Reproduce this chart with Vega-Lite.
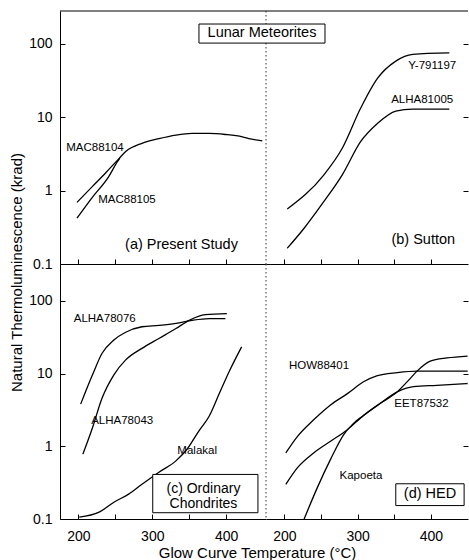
{
  "$schema": "https://vega.github.io/schema/vega-lite/v6.json",
  "padding": {"left": 9, "top": 10, "right": 0, "bottom": 0},
  "bounds": "flush",
  "spacing": 0,
  "columns": 2,
  "config": {
    "view": {"stroke": null},
    "font": "Liberation Sans",
    "axis": {
      "labelFont": "Liberation Sans", "titleFont": "Liberation Sans",
      "labelFontSize": 14, "titleFontSize": 15, "titleFontWeight": "normal",
      "labelColor": "black", "titleColor": "black",
      "domainColor": "black", "tickColor": "black", "grid": false
    },
    "text": {"font": "Liberation Sans", "color": "black"}
  },
  "datasets": {
    "curves": [
      {"p": "a", "s": "MAC88104", "T": 198, "v": 0.69},
      {"p": "a", "s": "MAC88104", "T": 219, "v": 1.14},
      {"p": "a", "s": "MAC88104", "T": 237, "v": 1.75},
      {"p": "a", "s": "MAC88104", "T": 253, "v": 2.6},
      {"p": "a", "s": "MAC88104", "T": 264, "v": 3.4},
      {"p": "a", "s": "MAC88104", "T": 286, "v": 4.4},
      {"p": "a", "s": "MAC88104", "T": 309, "v": 5.1},
      {"p": "a", "s": "MAC88104", "T": 332, "v": 5.7},
      {"p": "a", "s": "MAC88104", "T": 354, "v": 6.0},
      {"p": "a", "s": "MAC88104", "T": 377, "v": 6.0},
      {"p": "a", "s": "MAC88104", "T": 399, "v": 5.8},
      {"p": "a", "s": "MAC88104", "T": 422, "v": 5.4},
      {"p": "a", "s": "MAC88104", "T": 433, "v": 5.05},
      {"p": "a", "s": "MAC88104", "T": 449, "v": 4.75},
      {"p": "a", "s": "MAC88105", "T": 198, "v": 0.42},
      {"p": "a", "s": "MAC88105", "T": 218, "v": 0.79},
      {"p": "a", "s": "MAC88105", "T": 241, "v": 1.55},
      {"p": "a", "s": "MAC88105", "T": 253, "v": 2.5},
      {"p": "a", "s": "MAC88105", "T": 256, "v": 2.75},
      {"p": "b", "s": "Y-791197", "T": 204, "v": 0.56},
      {"p": "b", "s": "Y-791197", "T": 254, "v": 1.64},
      {"p": "b", "s": "Y-791197", "T": 279, "v": 3.77},
      {"p": "b", "s": "Y-791197", "T": 304, "v": 13.2},
      {"p": "b", "s": "Y-791197", "T": 327, "v": 33.7},
      {"p": "b", "s": "Y-791197", "T": 352, "v": 58},
      {"p": "b", "s": "Y-791197", "T": 375, "v": 71.6},
      {"p": "b", "s": "Y-791197", "T": 425, "v": 75},
      {"p": "b", "s": "ALHA81005", "T": 204, "v": 0.164},
      {"p": "b", "s": "ALHA81005", "T": 227, "v": 0.307},
      {"p": "b", "s": "ALHA81005", "T": 254, "v": 0.71},
      {"p": "b", "s": "ALHA81005", "T": 279, "v": 1.64},
      {"p": "b", "s": "ALHA81005", "T": 304, "v": 4.64},
      {"p": "b", "s": "ALHA81005", "T": 327, "v": 8.2},
      {"p": "b", "s": "ALHA81005", "T": 352, "v": 12.1},
      {"p": "b", "s": "ALHA81005", "T": 375, "v": 12.9},
      {"p": "b", "s": "ALHA81005", "T": 425, "v": 12.9},
      {"p": "c", "s": "ALHA78076", "T": 203, "v": 3.8},
      {"p": "c", "s": "ALHA78076", "T": 219, "v": 9.6},
      {"p": "c", "s": "ALHA78076", "T": 232, "v": 19},
      {"p": "c", "s": "ALHA78076", "T": 248, "v": 29},
      {"p": "c", "s": "ALHA78076", "T": 264, "v": 37},
      {"p": "c", "s": "ALHA78076", "T": 286, "v": 44},
      {"p": "c", "s": "ALHA78076", "T": 309, "v": 46},
      {"p": "c", "s": "ALHA78076", "T": 332, "v": 49},
      {"p": "c", "s": "ALHA78076", "T": 354, "v": 54},
      {"p": "c", "s": "ALHA78076", "T": 377, "v": 57},
      {"p": "c", "s": "ALHA78076", "T": 399, "v": 57},
      {"p": "c", "s": "ALHA78043", "T": 206, "v": 0.78},
      {"p": "c", "s": "ALHA78043", "T": 219, "v": 1.8},
      {"p": "c", "s": "ALHA78043", "T": 232, "v": 4.6},
      {"p": "c", "s": "ALHA78043", "T": 248, "v": 9.6},
      {"p": "c", "s": "ALHA78043", "T": 264, "v": 15.4},
      {"p": "c", "s": "ALHA78043", "T": 286, "v": 22.2},
      {"p": "c", "s": "ALHA78043", "T": 309, "v": 30.4},
      {"p": "c", "s": "ALHA78043", "T": 332, "v": 41.6},
      {"p": "c", "s": "ALHA78043", "T": 350, "v": 54},
      {"p": "c", "s": "ALHA78043", "T": 372, "v": 64.6},
      {"p": "c", "s": "ALHA78043", "T": 401, "v": 66.7},
      {"p": "c", "s": "Malakal", "T": 201, "v": 0.106},
      {"p": "c", "s": "Malakal", "T": 228, "v": 0.124},
      {"p": "c", "s": "Malakal", "T": 248, "v": 0.17},
      {"p": "c", "s": "Malakal", "T": 268, "v": 0.22},
      {"p": "c", "s": "Malakal", "T": 286, "v": 0.30},
      {"p": "c", "s": "Malakal", "T": 309, "v": 0.44},
      {"p": "c", "s": "Malakal", "T": 332, "v": 0.63},
      {"p": "c", "s": "Malakal", "T": 347, "v": 0.91},
      {"p": "c", "s": "Malakal", "T": 363, "v": 1.62},
      {"p": "c", "s": "Malakal", "T": 377, "v": 2.59},
      {"p": "c", "s": "Malakal", "T": 390, "v": 5.1},
      {"p": "c", "s": "Malakal", "T": 404, "v": 10.6},
      {"p": "c", "s": "Malakal", "T": 421, "v": 23.3},
      {"p": "d", "s": "HOW88401", "T": 202, "v": 0.81},
      {"p": "d", "s": "HOW88401", "T": 218, "v": 1.37},
      {"p": "d", "s": "HOW88401", "T": 240, "v": 2.31},
      {"p": "d", "s": "HOW88401", "T": 263, "v": 3.7},
      {"p": "d", "s": "HOW88401", "T": 286, "v": 5.3},
      {"p": "d", "s": "HOW88401", "T": 308, "v": 7.7},
      {"p": "d", "s": "HOW88401", "T": 326, "v": 9.3},
      {"p": "d", "s": "HOW88401", "T": 354, "v": 10.3},
      {"p": "d", "s": "HOW88401", "T": 381, "v": 10.8},
      {"p": "d", "s": "HOW88401", "T": 450, "v": 10.8},
      {"p": "d", "s": "EET87532", "T": 202, "v": 0.30},
      {"p": "d", "s": "EET87532", "T": 218, "v": 0.51},
      {"p": "d", "s": "EET87532", "T": 240, "v": 0.81},
      {"p": "d", "s": "EET87532", "T": 263, "v": 1.17},
      {"p": "d", "s": "EET87532", "T": 286, "v": 1.69},
      {"p": "d", "s": "EET87532", "T": 308, "v": 2.65},
      {"p": "d", "s": "EET87532", "T": 331, "v": 3.9},
      {"p": "d", "s": "EET87532", "T": 354, "v": 5.6},
      {"p": "d", "s": "EET87532", "T": 376, "v": 6.6},
      {"p": "d", "s": "EET87532", "T": 408, "v": 6.9},
      {"p": "d", "s": "EET87532", "T": 450, "v": 7.3},
      {"p": "d", "s": "Kapoeta", "T": 227, "v": 0.1},
      {"p": "d", "s": "Kapoeta", "T": 245, "v": 0.27},
      {"p": "d", "s": "Kapoeta", "T": 263, "v": 0.66},
      {"p": "d", "s": "Kapoeta", "T": 281, "v": 1.45},
      {"p": "d", "s": "Kapoeta", "T": 294, "v": 2.05},
      {"p": "d", "s": "Kapoeta", "T": 308, "v": 2.65},
      {"p": "d", "s": "Kapoeta", "T": 331, "v": 3.9},
      {"p": "d", "s": "Kapoeta", "T": 354, "v": 5.6},
      {"p": "d", "s": "Kapoeta", "T": 368, "v": 7.8},
      {"p": "d", "s": "Kapoeta", "T": 381, "v": 10.8},
      {"p": "d", "s": "Kapoeta", "T": 399, "v": 14.8},
      {"p": "d", "s": "Kapoeta", "T": 422, "v": 16.4},
      {"p": "d", "s": "Kapoeta", "T": 450, "v": 17.4}
    ],
    "labels": [
      {"p": "a", "kind": "small", "text": "MAC88104", "T": 222.4, "v": 3.83},
      {"p": "a", "kind": "small", "text": "MAC88105", "T": 265.7, "v": 0.74},
      {"p": "a", "kind": "big", "text": "(a)  Present Study", "T": 339.5, "v": 0.181},
      {"p": "a", "kind": "big", "text": "Lunar Meteorites", "T": 448.6, "v": 137.8},
      {"p": "b", "kind": "small", "text": "Y-791197", "T": 401.7, "v": 49.7},
      {"p": "b", "kind": "small", "text": "ALHA81005", "T": 388, "v": 17},
      {"p": "b", "kind": "big", "text": "(b) Sutton", "T": 389.5, "v": 0.21},
      {"p": "c", "kind": "small", "text": "ALHA78076", "T": 235.6, "v": 56.3},
      {"p": "c", "kind": "small", "text": "ALHA78043", "T": 259.2, "v": 2.24},
      {"p": "c", "kind": "small", "text": "Malakal", "T": 360.8, "v": 0.87},
      {"p": "c", "kind": "big", "text": "(c)  Ordinary\nChondrites", "T": 369.3, "v": 0.262},
      {"p": "d", "kind": "small", "text": "HOW88401", "T": 247.3, "v": 12.7},
      {"p": "d", "kind": "small", "text": "EET87532", "T": 387, "v": 3.78},
      {"p": "d", "kind": "small", "text": "Kapoeta", "T": 304.5, "v": 0.39},
      {"p": "d", "kind": "big", "text": "(d) HED", "T": 398.7, "v": 0.22}
    ],
    "boxes": [
      {"p": "a", "T": 363.2, "T2": 533.9, "v": 102, "v2": 185.5},
      {"p": "c", "T": 300.6, "T2": 443.1, "v": 0.122, "v2": 0.41},
      {"p": "d", "T": 352, "T2": 445.2, "v": 0.153, "v2": 0.305}
    ]
  },
  "concat": [
    {
      "width": 206, "height": 253,
      "layer": [
        {"data": {"values": [{}]}, "mark": {"type": "rule", "color": "black", "strokeWidth": 1},
         "encoding": {"y": {"datum": 279, "type": "quantitative", "scale": {"type": "log", "domain": [0.1, 279], "nice": false}}}},
        {"data": {"values": [{}]}, "mark": {"type": "rule", "color": "#333333", "strokeWidth": 1, "strokeDash": [1.5, 2.5]},
         "encoding": {"x": {"datum": 454, "type": "quantitative", "scale": {"domain": [175, 454], "nice": false, "zero": false}}}},
        {"data": {"name": "curves"}, "transform": [{"filter": "datum.p === 'a'"}],
         "mark": {"type": "line", "color": "black", "strokeWidth": 1.3, "interpolate": "monotone"},
         "encoding": {
           "x": {"field": "T", "type": "quantitative", "scale": {"domain": [175, 454], "nice": false, "zero": false},
                 "axis": {"values": [200, 250, 300, 350, 400], "labels": false, "title": null, "tickSize": -5}},
           "y": {"field": "v", "type": "quantitative", "scale": {"type": "log", "domain": [0.1, 279], "nice": false},
                 "axis": {"values": [0.1, 1, 10, 100], "format": "~g", "tickSize": -5, "labelPadding": 13,
                          "title": "Natural Thermoluminescence (krad)", "titleX": -44, "titleY": 261,
                          "titleAngle": 270, "titleAlign": "center", "titleBaseline": "middle"}},
           "detail": {"field": "s"}
         }},
        {"data": {"name": "boxes"}, "transform": [{"filter": "datum.p === 'a'"}],
         "mark": {"type": "rect", "fill": "white", "stroke": "black", "strokeWidth": 1},
         "encoding": {
           "x": {"field": "T", "type": "quantitative", "scale": {"domain": [175, 454], "nice": false, "zero": false}},
           "x2": {"field": "T2"},
           "y": {"field": "v", "type": "quantitative", "scale": {"type": "log", "domain": [0.1, 279], "nice": false}},
           "y2": {"field": "v2"}
         }},
        {"data": {"name": "labels"}, "transform": [{"filter": "datum.p === 'a' && datum.kind === 'small'"}],
         "mark": {"type": "text", "fontSize": 11.5},
         "encoding": {
           "x": {"field": "T", "type": "quantitative", "scale": {"domain": [175, 454], "nice": false, "zero": false}},
           "y": {"field": "v", "type": "quantitative", "scale": {"type": "log", "domain": [0.1, 279], "nice": false}},
           "text": {"field": "text"}
         }},
        {"data": {"name": "labels"}, "transform": [{"filter": "datum.p === 'a' && datum.kind === 'big'"}],
         "mark": {"type": "text", "fontSize": 14.5, "lineBreak": "\n"},
         "encoding": {
           "x": {"field": "T", "type": "quantitative", "scale": {"domain": [175, 454], "nice": false, "zero": false}},
           "y": {"field": "v", "type": "quantitative", "scale": {"type": "log", "domain": [0.1, 279], "nice": false}},
           "text": {"field": "text"}
         }}
      ]
    },
    {
      "width": 202, "height": 253,
      "layer": [
        {"data": {"values": [{}]}, "mark": {"type": "rule", "color": "black", "strokeWidth": 1},
         "encoding": {"y": {"datum": 279, "type": "quantitative", "scale": {"type": "log", "domain": [0.1, 279], "nice": false}}}},
        {"data": {"name": "curves"}, "transform": [{"filter": "datum.p === 'b'"}],
         "mark": {"type": "line", "color": "black", "strokeWidth": 1.3, "interpolate": "monotone"},
         "encoding": {
           "x": {"field": "T", "type": "quantitative", "scale": {"domain": [175, 450.5], "nice": false, "zero": false},
                 "axis": {"values": [200, 250, 300, 350, 400], "labels": false, "title": null, "tickSize": -5}},
           "y": {"field": "v", "type": "quantitative", "scale": {"type": "log", "domain": [0.1, 279], "nice": false},
                 "axis": {"orient": "right", "values": [1, 10, 100], "labels": false, "title": null, "tickSize": -5, "domain": false}},
           "detail": {"field": "s"}
         }},
        {"data": {"name": "labels"}, "transform": [{"filter": "datum.p === 'b' && datum.kind === 'small'"}],
         "mark": {"type": "text", "fontSize": 11.5},
         "encoding": {
           "x": {"field": "T", "type": "quantitative", "scale": {"domain": [175, 450.5], "nice": false, "zero": false}},
           "y": {"field": "v", "type": "quantitative", "scale": {"type": "log", "domain": [0.1, 279], "nice": false}},
           "text": {"field": "text"}
         }},
        {"data": {"name": "labels"}, "transform": [{"filter": "datum.p === 'b' && datum.kind === 'big'"}],
         "mark": {"type": "text", "fontSize": 14.5},
         "encoding": {
           "x": {"field": "T", "type": "quantitative", "scale": {"domain": [175, 450.5], "nice": false, "zero": false}},
           "y": {"field": "v", "type": "quantitative", "scale": {"type": "log", "domain": [0.1, 279], "nice": false}},
           "text": {"field": "text"}
         }}
      ]
    },
    {
      "width": 206, "height": 255,
      "layer": [
        {"data": {"values": [{}]}, "mark": {"type": "rule", "color": "#333333", "strokeWidth": 1, "strokeDash": [1.5, 2.5]},
         "encoding": {"x": {"datum": 454, "type": "quantitative", "scale": {"domain": [175, 454], "nice": false, "zero": false}}}},
        {"data": {"name": "curves"}, "transform": [{"filter": "datum.p === 'c'"}],
         "mark": {"type": "line", "color": "black", "strokeWidth": 1.3, "interpolate": "monotone"},
         "encoding": {
           "x": {"field": "T", "type": "quantitative", "scale": {"domain": [175, 454], "nice": false, "zero": false},
                 "axis": {"values": [200, 250, 300, 350, 400], "labelExpr": "datum.value % 100 === 0 ? datum.label : ''",
                          "tickSize": -5, "labelPadding": 15,
                          "title": "Glow Curve Temperature (°C)", "titleX": 197, "titleY": 33,
                          "titleAlign": "center", "titleBaseline": "middle"}},
           "y": {"field": "v", "type": "quantitative", "scale": {"type": "log", "domain": [0.1, 321], "nice": false},
                 "axis": {"values": [0.1, 1, 10, 100], "format": "~g", "tickSize": -5, "labelPadding": 13, "title": null}},
           "detail": {"field": "s"}
         }},
        {"data": {"name": "boxes"}, "transform": [{"filter": "datum.p === 'c'"}],
         "mark": {"type": "rect", "fill": "white", "stroke": "black", "strokeWidth": 1},
         "encoding": {
           "x": {"field": "T", "type": "quantitative", "scale": {"domain": [175, 454], "nice": false, "zero": false}},
           "x2": {"field": "T2"},
           "y": {"field": "v", "type": "quantitative", "scale": {"type": "log", "domain": [0.1, 321], "nice": false}},
           "y2": {"field": "v2"}
         }},
        {"data": {"name": "labels"}, "transform": [{"filter": "datum.p === 'c' && datum.kind === 'small'"}],
         "mark": {"type": "text", "fontSize": 11.5},
         "encoding": {
           "x": {"field": "T", "type": "quantitative", "scale": {"domain": [175, 454], "nice": false, "zero": false}},
           "y": {"field": "v", "type": "quantitative", "scale": {"type": "log", "domain": [0.1, 321], "nice": false}},
           "text": {"field": "text"}
         }},
        {"data": {"name": "labels"}, "transform": [{"filter": "datum.p === 'c' && datum.kind === 'big'"}],
         "mark": {"type": "text", "fontSize": 14, "lineBreak": "\n", "lineHeight": 15},
         "encoding": {
           "x": {"field": "T", "type": "quantitative", "scale": {"domain": [175, 454], "nice": false, "zero": false}},
           "y": {"field": "v", "type": "quantitative", "scale": {"type": "log", "domain": [0.1, 321], "nice": false}},
           "text": {"field": "text"}
         }}
      ]
    },
    {
      "width": 202, "height": 255,
      "layer": [
        {"data": {"name": "curves"}, "transform": [{"filter": "datum.p === 'd'"}],
         "mark": {"type": "line", "color": "black", "strokeWidth": 1.3, "interpolate": "monotone"},
         "encoding": {
           "x": {"field": "T", "type": "quantitative", "scale": {"domain": [175, 450.5], "nice": false, "zero": false},
                 "axis": {"values": [200, 250, 300, 350, 400], "labelExpr": "datum.value % 100 === 0 ? datum.label : ''",
                          "tickSize": -5, "labelPadding": 15, "title": null}},
           "y": {"field": "v", "type": "quantitative", "scale": {"type": "log", "domain": [0.1, 321], "nice": false},
                 "axis": {"orient": "right", "values": [1, 10, 100], "labels": false, "title": null, "tickSize": -5, "domain": false}},
           "detail": {"field": "s"}
         }},
        {"data": {"name": "boxes"}, "transform": [{"filter": "datum.p === 'd'"}],
         "mark": {"type": "rect", "fill": "white", "stroke": "black", "strokeWidth": 1},
         "encoding": {
           "x": {"field": "T", "type": "quantitative", "scale": {"domain": [175, 450.5], "nice": false, "zero": false}},
           "x2": {"field": "T2"},
           "y": {"field": "v", "type": "quantitative", "scale": {"type": "log", "domain": [0.1, 321], "nice": false}},
           "y2": {"field": "v2"}
         }},
        {"data": {"name": "labels"}, "transform": [{"filter": "datum.p === 'd' && datum.kind === 'small'"}],
         "mark": {"type": "text", "fontSize": 11.5},
         "encoding": {
           "x": {"field": "T", "type": "quantitative", "scale": {"domain": [175, 450.5], "nice": false, "zero": false}},
           "y": {"field": "v", "type": "quantitative", "scale": {"type": "log", "domain": [0.1, 321], "nice": false}},
           "text": {"field": "text"}
         }},
        {"data": {"name": "labels"}, "transform": [{"filter": "datum.p === 'd' && datum.kind === 'big'"}],
         "mark": {"type": "text", "fontSize": 14.5},
         "encoding": {
           "x": {"field": "T", "type": "quantitative", "scale": {"domain": [175, 450.5], "nice": false, "zero": false}},
           "y": {"field": "v", "type": "quantitative", "scale": {"type": "log", "domain": [0.1, 321], "nice": false}},
           "text": {"field": "text"}
         }}
      ]
    }
  ]
}
